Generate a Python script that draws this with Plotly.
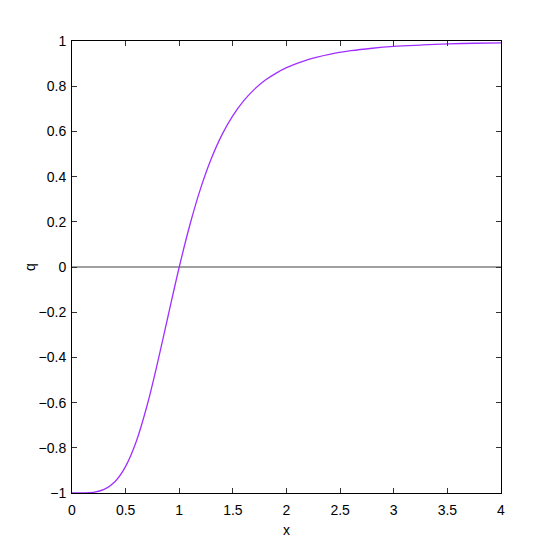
import plotly.graph_objects as go

# values
x_vals = [0, 0.1, 0.2, 0.3, 0.4, 0.5, 0.6, 0.7, 0.8, 0.9, 1.0,
          1.1, 1.2, 1.3, 1.4, 1.5, 1.6, 1.7, 1.8, 1.9, 2.0,
          2.2, 2.4, 2.6, 2.8, 3.0, 3.25, 3.5, 3.75, 4.0]
q_vals = [-1.0, -0.9998, -0.997, -0.984, -0.950, -0.882, -0.771, -0.613, -0.419, -0.208, 0.0,
          0.188, 0.349, 0.481, 0.587, 0.670, 0.735, 0.786, 0.826, 0.857, 0.882,
          0.918, 0.941, 0.957, 0.968, 0.976, 0.982, 0.987, 0.990, 0.992]

x_ticks = [0, 0.5, 1, 1.5, 2, 2.5, 3, 3.5, 4]
y_ticks = [-1, -0.8, -0.6, -0.4, -0.2, 0, 0.2, 0.4, 0.6, 0.8, 1]

font_family = "Liberation Sans Narrow, Liberation Sans, Arial"

fig = go.Figure()

# horizontal reference line at q = 0
fig.add_trace(go.Scatter(x=[x_ticks[0], x_ticks[-1]], y=[0, 0], mode="lines",
                         line=dict(color="#808080", width=1.5), hoverinfo="skip"))

fig.add_trace(go.Scatter(x=x_vals, y=q_vals, mode="lines",
                         line=dict(color="#a030ff", width=1.3, shape="spline")))

axis_style = dict(showline=True, linecolor="black", linewidth=1, mirror="ticks",
                  ticks="inside", ticklen=5, tickcolor="#333", showgrid=False,
                  zeroline=False, automargin=False, tickfont=dict(size=14, color="black"))

fig.update_layout(
    width=546, height=546,
    margin=dict(l=64, r=53, t=33, b=61),
    plot_bgcolor="white", paper_bgcolor="white",
    font=dict(family=font_family, color="black"),
    showlegend=False,
    xaxis=dict(range=[0, 4], tickvals=x_ticks, ticktext=[str(t) for t in x_ticks],
               ticklabelstandoff=4, **axis_style),
    yaxis=dict(range=[-1, 1], tickvals=y_ticks,
               ticktext=["\u22121", "\u22120.8", "\u22120.6", "\u22120.4", "\u22120.2",
                         "0", "0.2", "0.4", "0.6", "0.8", "1"],
               ticklabelstandoff=2, **axis_style),
    annotations=[
        dict(text="x", xref="paper", yref="paper", x=0.5, y=0, yanchor="middle",
             yshift=-37, showarrow=False, font=dict(size=14)),
        dict(text="q", xref="paper", yref="paper", x=0, y=0.5, xanchor="center",
             xshift=-42, textangle=-90, showarrow=False, font=dict(size=14)),
    ],
)

fig.write_html("out.html")
